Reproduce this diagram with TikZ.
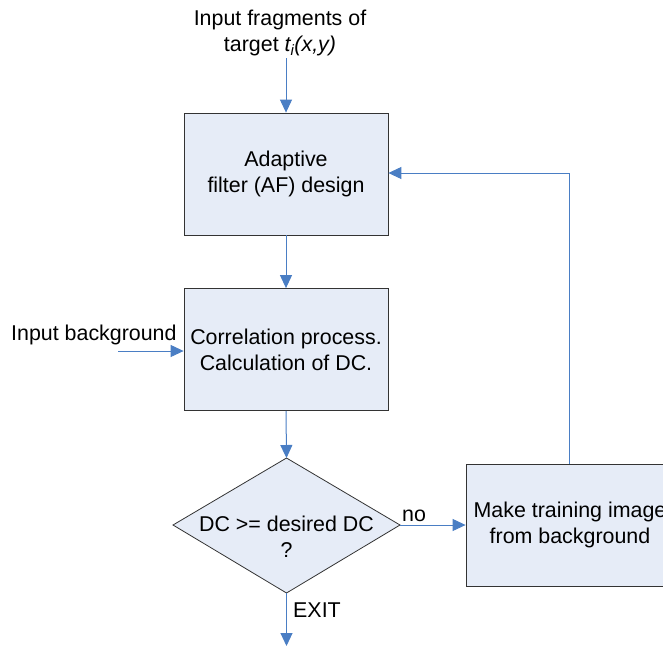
\documentclass[tikz,border=0pt]{standalone}
\usepackage{fontspec}
\setmainfont{Liberation Sans}
\usetikzlibrary{arrows.meta,shapes.geometric}
\definecolor{boxfill}{HTML}{E6ECF7}
\definecolor{arrowc}{HTML}{4A7EC4}
\begin{document}
\begin{tikzpicture}[x=1pt,y=-1pt,
  every node/.style={font=\fontsize{21.4}{26}\selectfont, inner sep=0pt},
  procbox/.style={draw=black!80, line width=0.8pt, fill=boxfill, minimum width=204pt, minimum height=122pt, align=center},
  conn/.style={draw=arrowc, line width=1pt, -{Triangle[length=13pt,width=12pt]}},
  lbl/.style={align=center}]
\useasboundingbox (0,0) rectangle (663,648);
\node[procbox] (af) at (286,174) {Adaptive\\filter (AF) design};
\node[procbox] (corr) at (286,349.5) {Correlation process.\\Calculation of DC.};
\draw[draw=black!80, line width=0.8pt, fill=boxfill] (173,525) -- (286.5,458) -- (400,525) -- (286.5,593) -- cycle;
\coordinate (dtop) at (286.5,458);
\coordinate (dright) at (400,525);
\coordinate (dbot) at (286.5,593);
\node[lbl] (dec) at (286.5,537) {DC >= desired DC\\?};
\node[procbox, minimum width=208pt, minimum height=122pt] (mk) at (570,525) {Make training image\\from background};
\node[lbl] (intop) at (280,33) {Input fragments of\\target \textit{t\textsubscript{i}(x,y)}};
\coordinate (intopend) at (286,58);
\node[anchor=west] (inbg) at (11,335) {Input background};
\coordinate (inbgstart) at (118,351);
\node[anchor=west] (no) at (402,516) {no};
\node[anchor=west] (exit) at (293,610) {EXIT};
\coordinate (exitend) at (286.5,646);
\coordinate (fbcorner) at (569,173);
\draw[conn] (intopend) -- (af.north);
\draw[conn] (af.south) -- (corr.north);
\draw[conn] (inbgstart) -- (inbgstart -| corr.west);
\draw[conn] (corr.south) -- (dtop);
\draw[conn] (dright) -- (dright -| mk.west);
\draw[conn] (dbot) -- (exitend);
\draw[conn] (mk.north -| fbcorner) -- (fbcorner) -- (fbcorner -| af.east);
\end{tikzpicture}
\end{document}
